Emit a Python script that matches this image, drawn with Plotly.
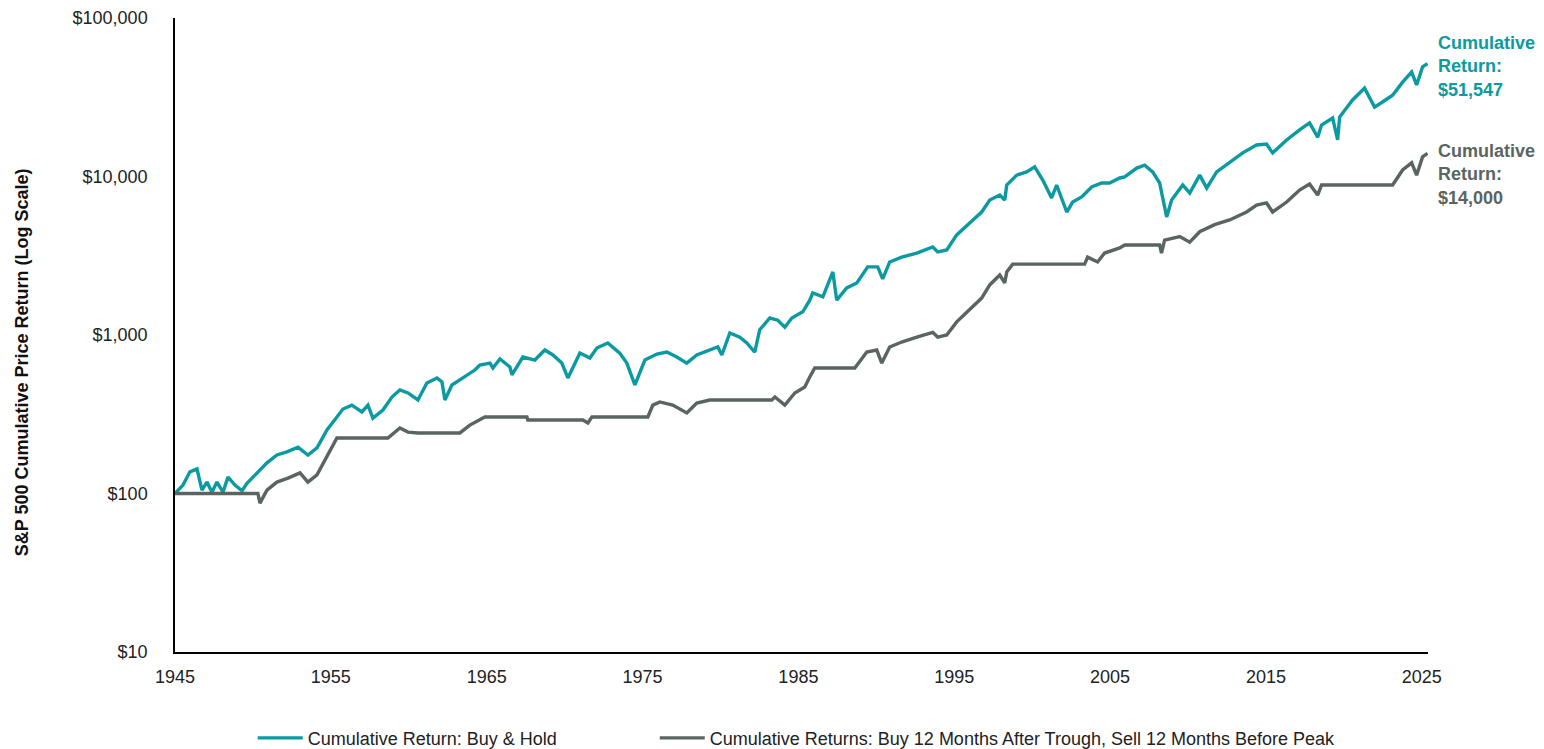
import plotly.graph_objects as go

# S&P 500 cumulative price return of $100 invested in 1945 (log scale)
buy_hold_years = [
    1945.00, 1945.51, 1945.96, 1946.41, 1946.73, 1947.05, 1947.37, 1947.69, 1948.08, 1948.40,
    1948.85, 1949.30, 1949.62, 1950.32, 1950.90, 1951.54, 1952.18, 1952.89, 1953.53, 1954.11,
    1954.75, 1955.39, 1955.78, 1956.35, 1956.99, 1957.38, 1957.70, 1958.34, 1958.92, 1959.43,
    1959.95, 1960.59, 1961.16, 1961.81, 1962.13, 1962.32, 1962.77, 1963.47, 1964.24, 1964.56,
    1965.21, 1965.40, 1965.85, 1966.49, 1966.62, 1967.32, 1968.09, 1968.73, 1969.25, 1969.82,
    1970.21, 1970.98, 1971.62, 1972.07, 1972.77, 1973.54, 1973.99, 1974.51, 1975.15, 1975.92,
    1976.56, 1977.20, 1977.84, 1978.48, 1979.32, 1979.83, 1980.09, 1980.60, 1981.24, 1981.69,
    1982.20, 1982.52, 1983.17, 1983.68, 1984.13, 1984.58, 1985.28, 1985.73, 1985.92, 1986.57,
    1987.21, 1987.46, 1988.10, 1988.75, 1989.45, 1990.09, 1990.41, 1990.86, 1991.63, 1992.60,
    1993.62, 1993.94, 1994.52, 1995.16, 1995.99, 1996.76, 1997.28, 1997.92, 1998.24, 1998.37,
    1999.01, 1999.65, 2000.16, 2000.68, 2001.25, 2001.57, 2002.22, 2002.60, 2003.18, 2003.82,
    2004.46, 2004.97, 2005.62, 2005.94, 2006.71, 2007.22, 2007.73, 2008.18, 2008.63, 2008.95,
    2009.66, 2010.11, 2010.75, 2011.20, 2011.84, 2012.67, 2013.51, 2014.40, 2015.04, 2015.43,
    2016.33, 2017.16, 2017.80, 2018.32, 2018.57, 2019.28, 2019.60, 2019.73, 2020.56, 2021.33,
    2021.97, 2022.48, 2023.13, 2023.77, 2024.35, 2024.67, 2025.05, 2025.37,
]
buy_hold_values = [
    100, 113, 137, 143, 105, 118, 102, 118, 102, 127,
    113, 104, 116, 137, 156, 175, 183, 196, 175, 194,
    252, 304, 341, 361, 327, 361, 299, 336, 406, 450,
    431, 389, 498, 536, 505, 389, 484, 536, 601, 647,
    665, 619, 706, 628, 560, 726, 695, 804, 748, 665,
    536, 769, 716, 828, 891, 769, 665, 484, 695, 758,
    781, 726, 665, 748, 804, 840, 748, 1030, 970, 891,
    781, 1080, 1280, 1240, 1120, 1280, 1400, 1660, 1840, 1740,
    2500, 1660, 1980, 2130, 2690, 2690, 2260, 2890, 3100, 3290,
    3590, 3340, 3440, 4280, 5090, 5970, 7110, 7640, 7110, 8840,
    10200, 10700, 11500, 9500, 7320, 8840, 5970, 6900, 7430, 8580,
    9100, 9100, 9790, 9930, 11300, 11800, 10700, 9100, 5550, 7110,
    8840, 7870, 10200, 8460, 10700, 12200, 14100, 15800, 16000, 14100,
    17000, 19700, 21800, 17700, 21100, 23400, 17000, 23700, 30400, 36100,
    27400, 29500, 32600, 39400, 45600, 37800, 49100, 51547,
]

# Invested only from 12 months after each trough until 12 months before each peak
timing_years = [
    1945.00, 1950.32, 1950.45, 1950.90, 1951.54, 1952.25, 1953.02, 1953.53, 1954.11, 1954.75,
    1955.39, 1958.66, 1959.43, 1959.95, 1960.59, 1963.28, 1963.92, 1964.88, 1967.58, 1967.64,
    1971.17, 1971.49, 1971.75, 1975.34, 1975.66, 1976.11, 1976.94, 1977.84, 1978.48, 1979.32,
    1983.29, 1983.49, 1984.13, 1984.77, 1985.41, 1985.73, 1986.05, 1988.62, 1989.39, 1990.03,
    1990.35, 1990.86, 1991.63, 1992.60, 1993.62, 1993.94, 1994.52, 1995.16, 1995.99, 1996.76,
    1997.28, 1997.92, 1998.24, 1998.37, 1998.75, 2003.37, 2003.56, 2004.20, 2004.65, 2005.62,
    2005.94, 2008.18, 2008.30, 2008.50, 2009.47, 2010.11, 2010.75, 2011.71, 2012.67, 2013.76,
    2014.40, 2015.04, 2015.43, 2016.33, 2017.16, 2017.80, 2018.32, 2018.57, 2023.13, 2023.77,
    2024.35, 2024.67, 2025.05, 2025.37,
]
timing_values = [
    100, 100, 87, 105, 118, 125, 135, 118, 131, 170,
    224, 224, 259, 244, 241, 241, 270, 304, 304, 291,
    291, 279, 304, 304, 361, 378, 361, 322, 372, 389,
    389, 406, 361, 431, 470, 543, 619, 619, 781, 804,
    665, 840, 903, 970, 1040, 970, 1000, 1210, 1440, 1710,
    2070, 2390, 2130, 2500, 2800, 2800, 3100, 2890, 3290, 3540,
    3700, 3700, 3290, 3970, 4180, 3850, 4480, 4970, 5320, 5970,
    6610, 6810, 5970, 6900, 8220, 8970, 7640, 8840, 8840, 11000,
    12200, 10200, 13300, 14000,
]

x_tick_years = [1945, 1955, 1965, 1975, 1985, 1995, 2005, 2015, 2025]
x_tick_labels = [str(y) for y in x_tick_years]
y_tick_values = [10, 100, 1000, 10000, 100000]
y_tick_labels = ["$10", "$100", "$1,000", "$10,000", "$100,000"]

TEAL = "#0B9AA2"
GRAY = "#5A6461"
FONT = "Liberation Sans, Arial, sans-serif"
TEXT = "#222222"

fig = go.Figure()
fig.add_trace(go.Scatter(
    x=buy_hold_years, y=buy_hold_values, mode="lines",
    name="Cumulative Return: Buy & Hold",
    line=dict(color=TEAL, width=3.4),
    legend="legend",
))
fig.add_trace(go.Scatter(
    x=timing_years, y=timing_values, mode="lines",
    name="Cumulative Returns: Buy 12 Months After Trough, Sell 12 Months Before Peak",
    line=dict(color=GRAY, width=3.4),
    legend="legend2",
))

# End-of-period labels beside each line
fig.add_annotation(
    x=1.006, y=0.924, xref="paper", yref="paper", xanchor="left", yanchor="middle",
    align="left", showarrow=False,
    text=f"Cumulative<br>Return:<br>${buy_hold_values[-1]:,}",
    font=dict(family=FONT, size=18, color=TEAL, weight="bold"),
)
fig.add_annotation(
    x=1.006, y=0.7524, xref="paper", yref="paper", xanchor="left", yanchor="middle",
    align="left", showarrow=False,
    text=f"Cumulative<br>Return:<br>${timing_values[-1]:,}",
    font=dict(family=FONT, size=18, color=GRAY, weight="bold"),
)

# Vertical axis title
fig.add_annotation(
    x=-0.1221, y=0.457, xref="paper", yref="paper", xanchor="center", yanchor="middle",
    textangle=-90, showarrow=False,
    text="S&P 500 Cumulative Price Return (Log Scale)",
    font=dict(family=FONT, size=18, color="#111111", weight="bold"),
)

legend_style = dict(
    orientation="h", xanchor="left", yanchor="middle",
    font=dict(family=FONT, size=18, color=TEXT),
    itemwidth=45, bgcolor="rgba(0,0,0,0)",
)

fig.update_layout(
    width=1544, height=749,
    margin=dict(l=175, r=116, t=18, b=97, autoexpand=False),
    paper_bgcolor="white", plot_bgcolor="white",
    font=dict(family=FONT, size=18, color=TEXT),
    showlegend=True,
    legend=dict(x=0.062, y=-0.136, **legend_style),
    legend2=dict(x=0.3829, y=-0.136, **legend_style),
    xaxis=dict(
        range=[1945, 2025.4], showgrid=False, zeroline=False,
        showline=True, linecolor="#000000", linewidth=1.5,
        tickmode="array", tickvals=x_tick_years, ticktext=x_tick_labels,
        ticks="", ticklabelstandoff=8,
        tickfont=dict(family=FONT, size=18, color=TEXT),
    ),
    yaxis=dict(
        type="log", range=[1, 5], showgrid=False, zeroline=False,
        showline=True, linecolor="#000000", linewidth=1.5,
        tickmode="array", tickvals=y_tick_values, ticktext=y_tick_labels,
        ticks="", ticklabelstandoff=22,
        tickfont=dict(family=FONT, size=18, color=TEXT),
    ),
)

fig.write_html("out.html")
